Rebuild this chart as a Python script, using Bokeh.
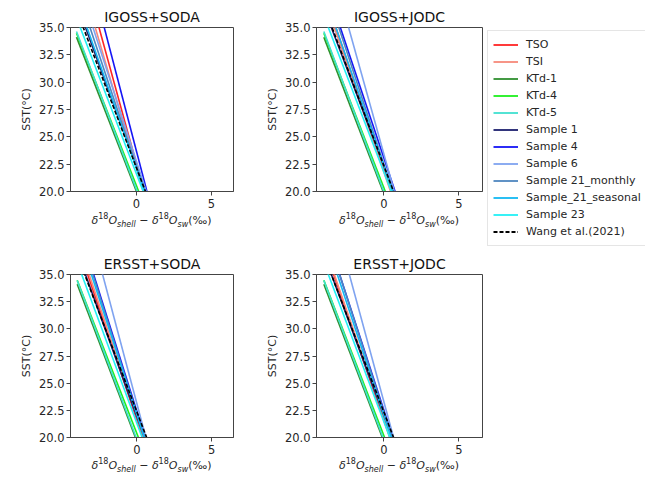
import numpy as np
from bokeh.plotting import figure
from bokeh.models import Range1d, FixedTicker, PrintfTickFormatter, Legend, LegendItem, Div
from bokeh.layouts import column, row
from bokeh.embed import file_html
from bokeh.resources import INLINE

# ---------------- data ----------------
series = ["TSO", "TSI", "KTd-1", "KTd-4", "KTd-5", "Sample 1", "Sample 4", "Sample 6",
          "Sample 21_monthly", "Sample_21_seasonal", "Sample 23", "Wang et al.(2021)"]
colors = ["#ff2424", "#f7897a", "#2f8f2f", "#1ef01e", "#40e0d0", "#1b1f6e", "#1515f5",
          "#7fa3f0", "#4f86bf", "#12b8f2", "#22f0f5", "black"]

panel_titles = ["IGOSS+SODA", "IGOSS+JODC", "ERSST+SODA", "ERSST+JODC"]

# δ18O_shell − δ18O_sw (‰) at which each line reaches SST = 35 °C and SST = 20 °C
igoss_soda_x35 = [-2.5, -2.75, -4.25, -4.15, -4.1, -3.4, -2.15, -2.9, -3.1, -3.3, -3.75, -3.55]
igoss_soda_x20 = [0.5, 0.45, 0.0, 0.15, 0.05, 0.6, 0.7, 0.65, 0.55, 0.55, 0.45, 0.6]

igoss_jodc_x35 = [-3.2, -3.3, -4.25, -4.15, -4.1, -3.5, -2.9, -2.35, -3.0, -3.2, -3.7, -3.45]
igoss_jodc_x20 = [0.5, 0.45, -0.05, 0.1, 0.0, 0.65, 0.75, 0.7, 0.6, 0.6, 0.5, 0.65]

ersst_soda_x35 = [-3.3, -3.2, -4.25, -4.15, -4.15, -3.45, -2.9, -2.3, -2.95, -3.05, -3.7, -3.5]
ersst_soda_x20 = [0.4, 0.45, -0.1, 0.1, -0.05, 0.5, 0.55, 0.6, 0.5, 0.5, 0.35, 0.65]

ersst_jodc_x35 = [-3.35, -3.3, -4.25, -4.15, -4.15, -3.5, -2.95, -2.3, -2.95, -3.1, -3.7, -3.5]
ersst_jodc_x20 = [0.4, 0.45, -0.1, 0.05, -0.05, 0.55, 0.6, 0.65, 0.55, 0.5, 0.4, 0.65]

delta_span = [-4.0, 6.0]          # δ range over which each calibration line is drawn
x_ticks = [0, 5]
y_ticks = [20.0, 22.5, 25.0, 27.5, 30.0, 32.5, 35.0]
sst_top, sst_bottom = 35.0, 20.0

panels = [
    (panel_titles[0], igoss_soda_x35, igoss_soda_x20, (-4.4, 6.47)),
    (panel_titles[1], igoss_jodc_x35, igoss_jodc_x20, (-4.49, 6.58)),
    (panel_titles[2], ersst_soda_x35, ersst_soda_x20, (-4.45, 6.47)),
    (panel_titles[3], ersst_jodc_x35, ersst_jodc_x20, (-4.49, 6.58)),
]

FONT = "DejaVu Sans"
TXT = "#262626"


def make_panel(title, x35, x20, xr, width, height, bl, br, bt, bb, standoff):
    p = figure(width=width, height=height, output_backend="svg", toolbar_location=None,
               x_range=Range1d(*xr), y_range=Range1d(sst_bottom, sst_top),
               min_border_left=bl, min_border_right=br, min_border_top=bt,
               min_border_bottom=bb)
    p.title.text = title
    p.title.text_font = FONT
    p.title.text_font_size = "14px"
    p.title.text_font_style = "normal"
    p.title.text_color = "#111"
    p.title.align = "center"
    p.title.standoff = standoff
    p.title.offset = 0
    p.xgrid.visible = False
    p.ygrid.visible = False
    p.outline_line_color = "#444"
    p.outline_line_width = 1
    p.background_fill_color = "white"
    p.border_fill_color = "white"
    for ax in (p.xaxis[0], p.yaxis[0]):
        ax.axis_line_color = "#444"
        ax.major_tick_line_color = "#444"
        ax.major_tick_out = 4
        ax.major_tick_in = 0
        ax.minor_tick_line_color = None
        ax.major_label_text_font = FONT
        ax.major_label_text_font_size = "11.5px"
        ax.major_label_text_color = TXT
    p.xaxis.ticker = FixedTicker(ticks=x_ticks)
    p.xaxis.formatter = PrintfTickFormatter(format="%d")
    p.xaxis.major_label_standoff = 3
    p.yaxis.ticker = FixedTicker(ticks=y_ticks)
    p.yaxis.formatter = PrintfTickFormatter(format="%.1f")
    p.yaxis.major_label_standoff = 2
    p.yaxis.axis_label = "SST(°C)"
    p.yaxis.axis_label_text_font = FONT
    p.yaxis.axis_label_text_font_size = "11px"
    p.yaxis.axis_label_text_font_style = "normal"
    p.yaxis.axis_label_text_color = TXT
    p.yaxis.axis_label_standoff = 3

    xs = np.array(delta_span)
    for name, c, a, b in zip(series, colors, x35, x20):
        slope = (sst_top - sst_bottom) / (a - b)
        ys = sst_bottom + slope * (xs - b)
        dash = "4 2" if name.startswith("Wang") else "solid"
        p.line(xs, ys, line_color=c, line_width=1.6, line_dash=dash)
    return p


def xlabel_div(width, height, bl, br, top):
    frame_w = width - bl - br
    sup = '<sup style="font-size:8px;line-height:0">18</sup>'
    html = (f'<div style="width:{frame_w}px;margin-left:{bl}px;margin-top:{top}px;'
            f'text-align:center;white-space:nowrap;font-family:\'DejaVu Sans\';'
            f'font-size:11px;line-height:14px;color:{TXT}">'
            f'<i>δ</i>{sup}<i>O</i><sub style="font-size:8px;line-height:0"><i>shell</i></sub>'
            f' − <i>δ</i>{sup}<i>O</i><sub style="font-size:8px;line-height:0"><i>sw</i></sub>(‰)'
            f'</div>')
    return Div(text=html, width=width, height=height, margin=(0, 0, 0, 0))


p1 = make_panel(*panels[0], width=248, height=211, bl=70, br=15, bt=27, bb=20, standoff=5)
p2 = make_panel(*panels[1], width=237, height=211, bl=68, br=3, bt=27, bb=20, standoff=5)
p3 = make_panel(*panels[2], width=248, height=207, bl=70, br=15, bt=23, bb=20, standoff=6)
p4 = make_panel(*panels[3], width=237, height=207, bl=68, br=3, bt=23, bb=20, standoff=6)

d1 = xlabel_div(248, 39, 70, 15, 3)
d2 = xlabel_div(237, 39, 68, 3, 3)
d3 = xlabel_div(248, 26, 70, 15, 2)
d4 = xlabel_div(237, 26, 68, 3, 2)

# legend panel (its sample lines lie outside its own visible range, only the key shows)
pl = figure(width=160, height=250, output_backend="svg", toolbar_location=None,
            x_range=Range1d(0, 1), y_range=Range1d(0, 1),
            min_border_left=0, min_border_right=0, min_border_top=0, min_border_bottom=0)
pl.axis.visible = False
pl.xgrid.visible = False
pl.ygrid.visible = False
pl.outline_line_color = None
items = []
for name, c in zip(series, colors):
    dash = "4 2" if name.startswith("Wang") else "solid"
    r = pl.line([5, 6], [5, 6], line_color=c, line_width=1.8, line_dash=dash)
    items.append(LegendItem(label=name, renderers=[r]))
legend = Legend(items=items, location=(2, 4))
legend.label_text_font = FONT
legend.label_text_font_size = "11px"
legend.label_text_color = TXT
legend.glyph_width = 25
legend.glyph_height = 17
legend.label_height = 17
legend.label_standoff = 8
legend.spacing = 0
legend.padding = 5
legend.margin = 0
legend.border_line_color = "#cccccc"
legend.border_line_width = 1
legend.background_fill_color = "white"
legend.background_fill_alpha = 1.0
pl.add_layout(legend)

layout = column(row(column(p1, d1), column(p2, d2), pl),
                row(column(p3, d3), column(p4, d4)))

open("out.html", "w").write(file_html(layout, INLINE))
